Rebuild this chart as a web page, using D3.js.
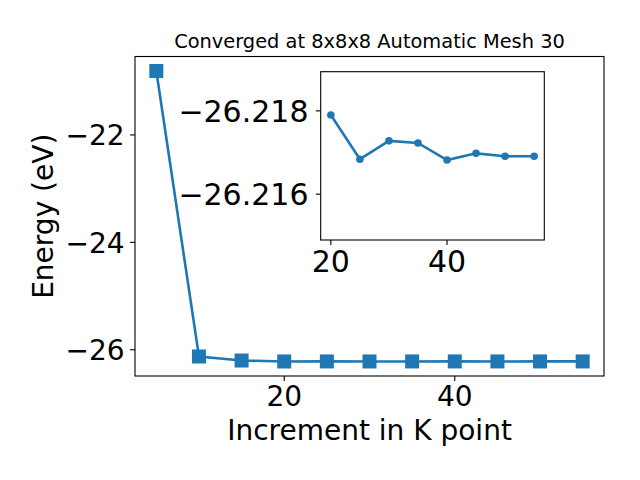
<!DOCTYPE html>
<html><head><meta charset="utf-8">
<script src="https://cdn.jsdelivr.net/npm/d3@7"></script>
<style>body{margin:0;background:#fff}svg{display:block}text{font-family:"DejaVu Sans",sans-serif;fill:#000}</style>
</head><body>
<script>
const kpoints = [5,10,15,20,25,30,35,40,45,50,55];
const energy = [-20.81,-26.125,-26.20,-26.2179,-26.21684,-26.21728,-26.21723,-26.21682,-26.21698,-26.21691,-26.21691];
const mainXTicks = [20,40];
const mainYTicks = [-26,-24,-22];
const insetXTicks = [20,40];
const insetYTicks = [-26.218,-26.216];
const insetYLimits = [-26.21894,-26.2149];
const titleText = "Converged at 8x8x8 Automatic Mesh 30";
const xLabel = "Increment in K point";
const yLabel = "Energy (eV)";

const W=640,H=480,color="#1f77b4";
const svg=d3.select("body").append("svg").attr("width",W).attr("height",H);
const M={l:135,r:604,t:56.5,b:376};
const xmin=d3.min(kpoints),xmax=d3.max(kpoints),xs=(xmax-xmin)*0.05;
const ymin=d3.min(energy),ymax=d3.max(energy),ys=(ymax-ymin)*0.05;
const x=d3.scaleLinear().domain([xmin-xs,xmax+xs]).range([M.l,M.r]);
const y=d3.scaleLinear().domain([ymin-ys,ymax+ys]).range([M.b,M.t]);
const data=kpoints.map((k,i)=>({k,e:energy[i]}));

function axes(g,xsc,ysc,box,xt,yt,fs,yfmt,ypad){
  const tl=4.9;
  g.append("rect").attr("x",box.l).attr("y",box.t).attr("width",box.r-box.l).attr("height",box.b-box.t)
   .attr("fill","#fff");
  xt.forEach(v=>{
    g.append("line").attr("x1",xsc(v)).attr("x2",xsc(v)).attr("y1",box.b).attr("y2",box.b+tl).attr("stroke","#000").attr("stroke-width",1.1);
    g.append("text").attr("x",xsc(v)).attr("y",box.b+tl+4.9+fs*0.73).attr("text-anchor","middle").attr("font-size",fs).text(v);
  });
  yt.forEach(v=>{
    g.append("line").attr("x1",box.l-tl).attr("x2",box.l).attr("y1",ysc(v)).attr("y2",ysc(v)).attr("stroke","#000").attr("stroke-width",1.1);
    g.append("text").attr("x",box.l-tl-ypad).attr("y",ysc(v)).attr("dy","0.365em").attr("text-anchor","end").attr("font-size",fs).text(yfmt(v));
  });
}
function frame(g,box){
  g.append("rect").attr("x",box.l).attr("y",box.t).attr("width",box.r-box.l).attr("height",box.b-box.t)
   .attr("fill","none").attr("stroke","#000").attr("stroke-width",1.1);
}
const gm=svg.append("g");
axes(gm,x,y,M,mainXTicks,mainYTicks,28,d3.format("d"),5.4);
gm.append("path").datum(data).attr("fill","none").attr("stroke",color).attr("stroke-width",2.6)
  .attr("d",d3.line().x(d=>x(d.k)).y(d=>y(d.e)));
gm.selectAll("rect.m").data(data).join("rect").attr("class","m")
  .attr("x",d=>x(d.k)-7).attr("y",d=>y(d.e)-7).attr("width",14).attr("height",14).attr("fill",color);
frame(gm,M);
gm.append("text").attr("x",(M.l+M.r)/2).attr("y",M.t-9).attr("text-anchor","middle").attr("font-size",19.4).text(titleText);
gm.append("text").attr("x",(M.l+M.r)/2).attr("y",440).attr("text-anchor","middle").attr("font-size",28).text(xLabel);
gm.append("text").attr("transform",`translate(53,${(M.t+M.b)/2}) rotate(-90)`).attr("text-anchor","middle").attr("font-size",28).text(yLabel);

// inset
const I={l:320.7,r:544.3,t:71.7,b:240};
const idata=data.filter(d=>d.k>=20);
const ixmin=d3.min(idata,d=>d.k),ixmax=d3.max(idata,d=>d.k),ixs=(ixmax-ixmin)*0.05;
const ix=d3.scaleLinear().domain([ixmin-ixs,ixmax+ixs]).range([I.l,I.r]);
const iy=d3.scaleLinear().domain(insetYLimits).range([I.t,I.b]);
const gi=svg.append("g");
axes(gi,ix,iy,I,insetXTicks,insetYTicks,30,d3.format(".3f"),7.3);
gi.append("path").datum(idata).attr("fill","none").attr("stroke",color).attr("stroke-width",2.6)
  .attr("d",d3.line().x(d=>ix(d.k)).y(d=>iy(d.e)));
gi.selectAll("circle").data(idata).join("circle").attr("cx",d=>ix(d.k)).attr("cy",d=>iy(d.e)).attr("r",3.8).attr("fill",color);
frame(gi,I);
</script>
</body></html>
